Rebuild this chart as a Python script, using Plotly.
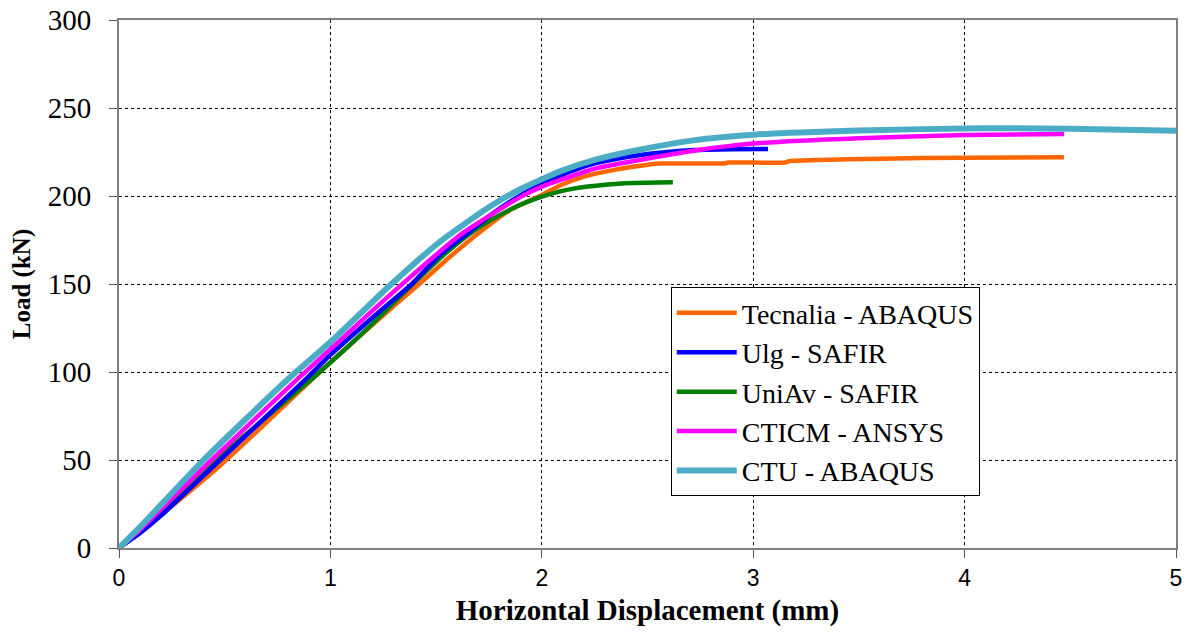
import plotly.graph_objects as go

# Tecnalia - ABAQUS
tec_x = [0, 0.2, 0.48, 0.95, 1.2, 1.42, 1.566, 1.72, 1.85, 2.0, 2.086, 2.2, 2.35, 2.45, 2.56, 2.75, 2.87, 2.88, 3.15, 3.17, 3.3, 3.6, 4.0, 4.47]
tec_y = [0, 19, 47, 100, 127, 150, 165.5, 180.7, 192, 200.6, 206, 211, 215, 216.9, 218.4, 218.5, 218.6, 219.0, 219.0, 219.8, 220.4, 221.2, 221.8, 222.0]

# Ulg - SAFIR
ulg_x = [0, 0.1, 0.2, 0.478, 0.88, 1.0, 1.2, 1.385, 1.518, 1.67, 1.755, 1.9, 2.0, 2.086, 2.25, 2.465, 2.717, 2.9, 3.07]
ulg_y = [0, 8.5, 18.5, 50, 95.5, 109.7, 131, 150, 166.5, 180.7, 189, 200.5, 206.8, 211.5, 218.5, 223.3, 226.1, 226.6, 226.7]

# UniAv - SAFIR
uni_x = [0, 0.1, 0.2, 0.459, 0.95, 1.2, 1.39, 1.55, 1.67, 1.755, 1.88, 2.0, 2.086, 2.15, 2.3, 2.43, 2.62]
uni_y = [0, 9.5, 20, 50, 100, 127.5, 150, 168, 179.5, 186, 194, 199.6, 202.6, 204.2, 206.4, 207.4, 207.8]

# CTICM - ANSYS
cti_x = [0, 0.1, 0.438, 0.84, 1.0, 1.2, 1.35, 1.518, 1.62, 1.755, 1.9, 2.0, 2.086, 2.25, 2.465, 2.717, 3.0, 3.5, 4.0, 4.47]
cti_y = [0, 10.5, 50, 95.5, 113, 135, 151, 168.5, 178.5, 189, 199.5, 205.3, 209, 215.5, 220.5, 225.7, 229.8, 232.8, 234.6, 235.2]

# CTU - ABAQUS
ctu_x = [0, 0.1, 0.40, 0.80, 1.0, 1.28, 1.518, 1.755, 1.9, 2.0, 2.086, 2.25, 2.45, 2.717, 3.0, 3.5, 4.0, 4.2, 4.5, 5.0]
ctu_y = [0, 12, 50, 96, 117, 149, 174, 194, 204, 209.5, 214, 220.5, 226, 231.6, 234.8, 237.2, 238.4, 238.5, 238.2, 237.1]

x_ticks = [0, 1, 2, 3, 4, 5]
y_ticks = [0, 50, 100, 150, 200, 250, 300]

series = [
    ("Tecnalia - ABAQUS", tec_x, tec_y, "#FF6600", 4.5, 1),
    ("UniAv - SAFIR", uni_x, uni_y, "#008000", 4.5, 3),
    ("Ulg - SAFIR", ulg_x, ulg_y, "#0000FF", 4.5, 2),
    ("CTICM - ANSYS", cti_x, cti_y, "#FF00FF", 4.5, 4),
    ("CTU - ABAQUS", ctu_x, ctu_y, "#4BACC6", 6, 5),
]

SERIF = "Liberation Serif, Times New Roman, DejaVu Serif, serif"
SANS = "Liberation Sans, Arial, sans-serif"

fig = go.Figure()
for name, xs, ys, col, w, rank in series:
    fig.add_trace(go.Scatter(
        x=xs, y=ys, name=name, mode="lines",
        line=dict(color=col, width=w, shape="spline", smoothing=0.6),
        legendrank=rank,
    ))

axis_common = dict(
    showline=True, linecolor="#7f7f7f", linewidth=2, mirror=True,
    showgrid=True, gridcolor="black", gridwidth=1, griddash="dot",
    ticks="outside", ticklen=8, tickcolor="#555555", tickwidth=1,
    zeroline=False, automargin=False,
)

fig.update_xaxes(
    range=[0, 5], tickvals=x_ticks, ticktext=[str(v) for v in x_ticks],
    tickfont=dict(family=SANS, size=23, color="black"),
    title=dict(text="<b>Horizontal Displacement (mm)</b>",
               font=dict(family=SERIF, size=29, color="black"),
               standoff=10),
    **axis_common,
)
fig.update_yaxes(
    range=[0, 300], tickvals=y_ticks, ticktext=[str(v) for v in y_ticks],
    tickfont=dict(family=SERIF, size=29, color="black"),
    ticklabelstandoff=12,
    title=dict(text="<b>Load (kN)</b>",
               font=dict(family=SERIF, size=25, color="black"),
               standoff=10),
    **axis_common,
)

fig.update_layout(
    width=1192, height=637,
    margin=dict(l=119, r=16, t=20, b=89),
    paper_bgcolor="white", plot_bgcolor="white",
    showlegend=True,
    legend=dict(
        x=0.522, y=0.494, xanchor="left", yanchor="top",
        bgcolor="white", bordercolor="black", borderwidth=1,
        font=dict(family=SERIF, size=28, color="black"),
        tracegroupgap=0, itemwidth=60,
    ),
)

fig.write_html("out.html")
